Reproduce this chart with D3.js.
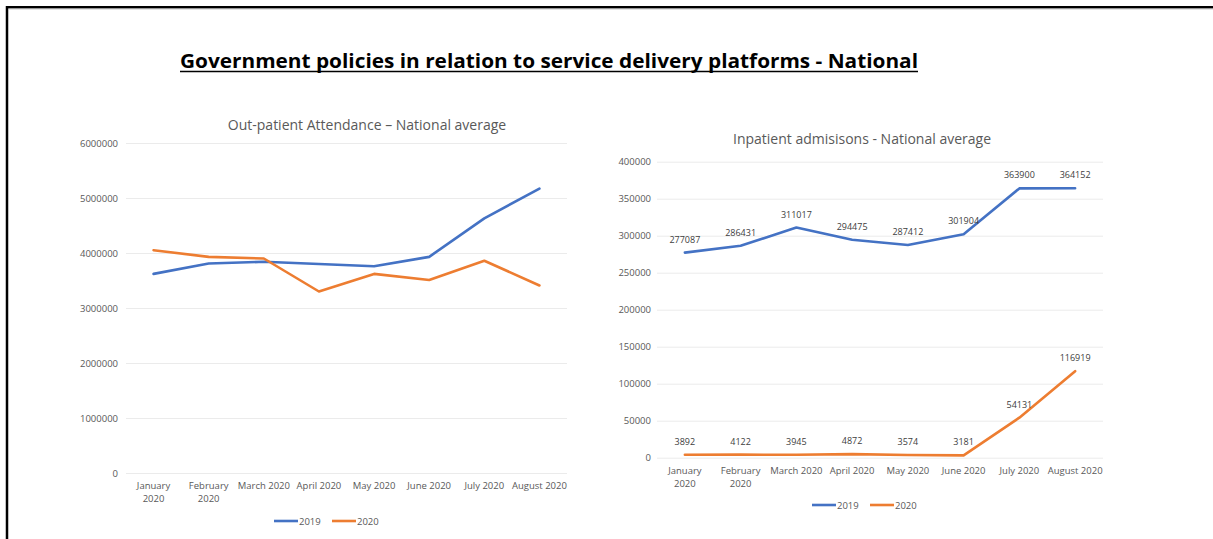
<!DOCTYPE html>
<html>
<head>
<meta charset="utf-8">
<script src="https://cdn.jsdelivr.net/npm/d3@7"></script>
<style>
  html, body { margin: 0; padding: 0; background: #fff; }
  svg { display: block; }
  text { font-family: "Open Sans", "Noto Sans", sans-serif; }
</style>
</head>
<body>
<svg id="chart" width="1213" height="539"></svg>
<script>
// ---- data ----
const categories = ["January 2020", "February 2020", "March 2020", "April 2020", "May 2020", "June 2020", "July 2020", "August 2020"];
const xTickLabels = [["January", "2020"], ["February", "2020"], ["March 2020"], ["April 2020"], ["May 2020"], ["June 2020"], ["July 2020"], ["August 2020"]];
const seriesNames = ["2019", "2020"];

const outpatient2019 = [3620000, 3810000, 3840000, 3800000, 3760000, 3930000, 4630000, 5170000];
const outpatient2020 = [4050000, 3930000, 3900000, 3300000, 3620000, 3510000, 3860000, 3410000];
const outpatientTicks = [0, 1000000, 2000000, 3000000, 4000000, 5000000, 6000000];

const inpatient2019 = [277087, 286431, 311017, 294475, 287412, 301904, 363900, 364152];
const inpatient2020 = [3892, 4122, 3945, 4872, 3574, 3181, 54131, 116919];
const inpatientTicks = [0, 50000, 100000, 150000, 200000, 250000, 300000, 350000, 400000];

const mainTitle = "Government policies in relation to service delivery platforms - National";
const leftTitle = "Out-patient Attendance \u2013 National average";
const rightTitle = "Inpatient admisisons - National average";

// ---- drawing ----
const colors = { "2019": "#4472C4", "2020": "#ED7D31" };
const svg = d3.select("#chart");

// frame
svg.append("line").attr("x1", 7).attr("x2", 1213).attr("y1", 7.2).attr("y2", 7.2).attr("stroke", "#000").attr("stroke-width", 2.5);
svg.append("line").attr("x1", 7).attr("x2", 7).attr("y1", 6).attr("y2", 539).attr("stroke", "#000").attr("stroke-width", 2.5);
svg.append("line").attr("x1", 8.5).attr("x2", 1213).attr("y1", 9).attr("y2", 9).attr("stroke", "#bbb").attr("stroke-width", 0.8);

// main title
svg.append("text")
  .attr("x", 549).attr("y", 68)
  .attr("text-anchor", "middle")
  .attr("font-family", "'Open Sans', sans-serif")
  .attr("font-weight", "bold")
  .attr("font-size", 19)
  .attr("fill", "#000")
  .attr("textLength", 738)
  .attr("lengthAdjust", "spacingAndGlyphs")
  .text(mainTitle);
svg.append("line").attr("x1", 180).attr("x2", 918).attr("y1", 71.5).attr("y2", 71.5).attr("stroke", "#000").attr("stroke-width", 1.5);

function drawChart(cfg) {
  const g = svg.append("g");
  const x = d3.scaleBand().domain(categories).range([cfg.x0, cfg.x1]);
  const y = d3.scaleLinear().domain([0, cfg.ticks[cfg.ticks.length - 1]]).range([cfg.yBottom, cfg.yTop]);
  const cx = c => x(c) + x.bandwidth() / 2;

  // title
  g.append("text").attr("x", cfg.titleX).attr("y", cfg.titleY)
    .attr("text-anchor", "middle").attr("font-size", 14).attr("fill", "#595959")
    .text(cfg.title);

  // y axis + grid
  const ya = g.append("g").attr("transform", `translate(${cfg.x0},0)`)
    .call(d3.axisLeft(y).tickValues(cfg.ticks).tickFormat(d3.format("d")).tickSize(-(cfg.x1 - cfg.x0)).tickPadding(cfg.tickPad));
  ya.select(".domain").remove();
  ya.selectAll(".tick line").attr("stroke", "#EBEBEB").attr("stroke-width", 1);
  ya.selectAll(".tick text").attr("fill", "#595959").attr("font-size", 9.5).attr("font-family", "'Open Sans', sans-serif");

  // x labels
  const xl = g.append("g");
  categories.forEach((c, i) => {
    const t = xl.append("text").attr("x", cx(c)).attr("y", cfg.yBottom + 16)
      .attr("text-anchor", "middle").attr("font-size", 9.5).attr("fill", "#595959");
    xTickLabels[i].forEach((ln, j) => {
      t.append("tspan").attr("x", cx(c)).attr("dy", j === 0 ? 0 : 13).text(ln);
    });
  });

  // lines
  const line = d3.line().x((d, i) => cx(categories[i])).y(d => y(d));
  [cfg.s2019, cfg.s2020].forEach((s, k) => {
    g.append("path").datum(s).attr("d", line)
      .attr("fill", "none").attr("stroke", colors[seriesNames[k]])
      .attr("stroke-width", 2.6).attr("stroke-linejoin", "round").attr("stroke-linecap", "round");
  });

  // data labels
  if (cfg.labels) {
    [cfg.s2019, cfg.s2020].forEach(s => {
      g.selectAll(null).data(s).enter().append("text")
        .attr("x", (d, i) => cx(categories[i]))
        .attr("y", d => y(d) - 10)
        .attr("text-anchor", "middle").attr("font-size", 9).attr("fill", "#404040")
        .text(d => d);
    });
  }

  // legend
  const lg = g.append("g").attr("transform", `translate(${cfg.legendX},${cfg.legendY})`);
  seriesNames.forEach((n, i) => {
    const ox = i * 58;
    lg.append("line").attr("x1", ox).attr("x2", ox + 24).attr("y1", 0).attr("y2", 0)
      .attr("stroke", colors[n]).attr("stroke-width", 2.6);
    lg.append("text").attr("x", ox + 25).attr("y", 3.5).attr("font-size", 9.5).attr("fill", "#595959").text(n);
  });
}

drawChart({
  x0: 126, x1: 567, yTop: 143, yBottom: 473,
  ticks: outpatientTicks, tickPad: 8,
  s2019: outpatient2019, s2020: outpatient2020,
  title: leftTitle, titleX: 367, titleY: 130,
  labels: false, legendX: 274, legendY: 521
});

drawChart({
  x0: 657, x1: 1103, yTop: 161.7, yBottom: 457.7,
  ticks: inpatientTicks, tickPad: 6,
  s2019: inpatient2019, s2020: inpatient2020,
  title: rightTitle, titleX: 862, titleY: 144,
  labels: true, legendX: 812, legendY: 505
});
</script>
</body>
</html>
